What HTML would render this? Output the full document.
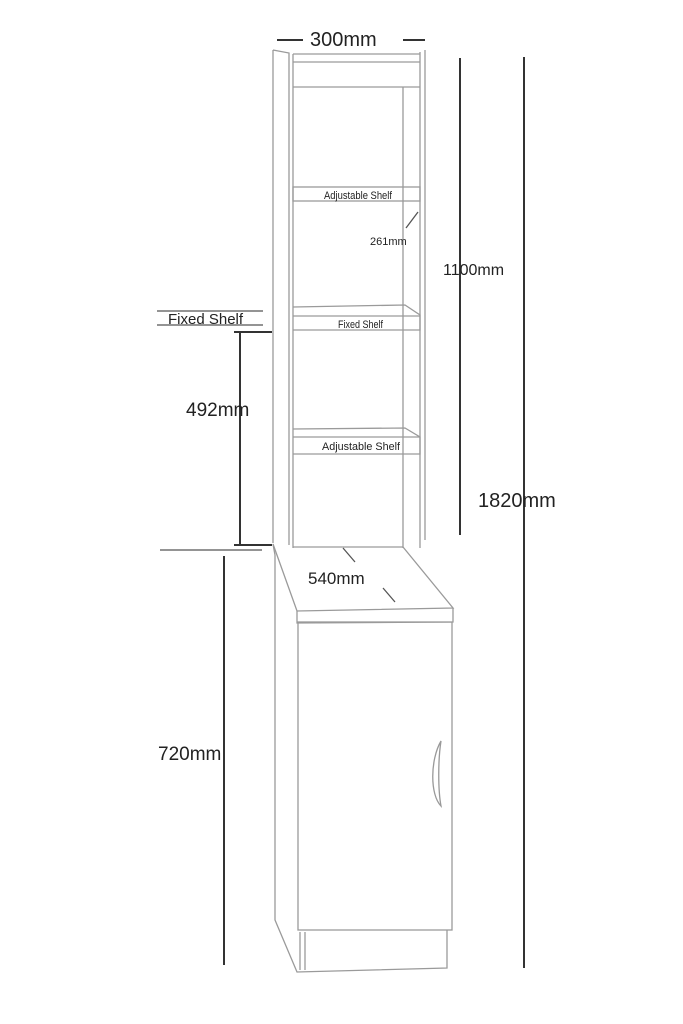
<!DOCTYPE html>
<html><head><style>body{margin:0;background:#fff}svg{display:block}</style></head><body>
<svg width="683" height="1024" viewBox="0 0 683 1024" xmlns="http://www.w3.org/2000/svg" font-family="Liberation Sans, sans-serif">
<rect width="683" height="1024" fill="#fff"/>
<g stroke="#9a9a9a" stroke-width="1.3" fill="none">
<path d="M273 50 L273 543 M273 50 L289 53 L289 545 M293 54 L293 548"/>
<path d="M293 54 L420 54 M293 62 L420 62 M293 87 L420 87"/>
<path d="M420 52 L420 548 M425 50 L425 540"/>
<path d="M403 87 L403 548"/>
<rect x="293" y="187" width="127" height="14"/>
<path d="M293 307 L405 305 L420 315 L420 330 L293 330 M293 316 L420 316"/>
<path d="M293 429 L405 428 L420 437 L420 454 L293 454 M293 437 L420 437"/>
<path d="M273 544 L297 611 L453 608 L403 547 L293 547"/>
<path d="M297 611 L297 623 L453 622 L453 608"/>
<path d="M273 544 L275 555 L275 920 L297 972 L447 968 L447 930"/>
<rect x="298" y="622" width="154" height="308"/>
<path d="M300 932 L300 970 M305 932 L305 970"/>
</g>
<path d="M441 741 C430 760 430 795 441 806 C438 790 438 760 441 741 Z" fill="none" stroke="#999" stroke-width="1.3"/>
<g stroke="#333" stroke-width="2" fill="none">
<path d="M277 40 L303 40 M403 40 L425 40"/>
<path d="M460 58 L460 535 M524 57 L524 968"/>
<path d="M240 332 L240 545 M234 332 L272 332 M234 545 L272 545"/>
<path d="M224 556 L224 965"/>
</g>
<g stroke="#555" stroke-width="1.3" fill="none">
<path d="M157 311 L263 311 M157 325 L263 325 M160 550 L262 550"/>
<path d="M343 548 L355 562 M383 588 L395 602 M406 228 L418 212"/>
</g>
<g fill="#222">
<text x="310" y="46" font-size="20">300mm</text>
<text x="443" y="275" font-size="16">1100mm</text>
<text x="478" y="507" font-size="20">1820mm</text>
<text x="186" y="416" font-size="19">492mm</text>
<text x="158" y="760" font-size="19">720mm</text>
<text x="308" y="584" font-size="17">540mm</text>
<text x="370" y="245" font-size="11">261mm</text>
<text x="168" y="324" font-size="15">Fixed Shelf</text>
<text x="324" y="199" font-size="11" textLength="68" lengthAdjust="spacingAndGlyphs">Adjustable Shelf</text>
<text x="338" y="328" font-size="11" textLength="45" lengthAdjust="spacingAndGlyphs">Fixed Shelf</text>
<text x="322" y="450" font-size="11" textLength="78" lengthAdjust="spacingAndGlyphs">Adjustable Shelf</text>
</g>
</svg>
</body></html>
